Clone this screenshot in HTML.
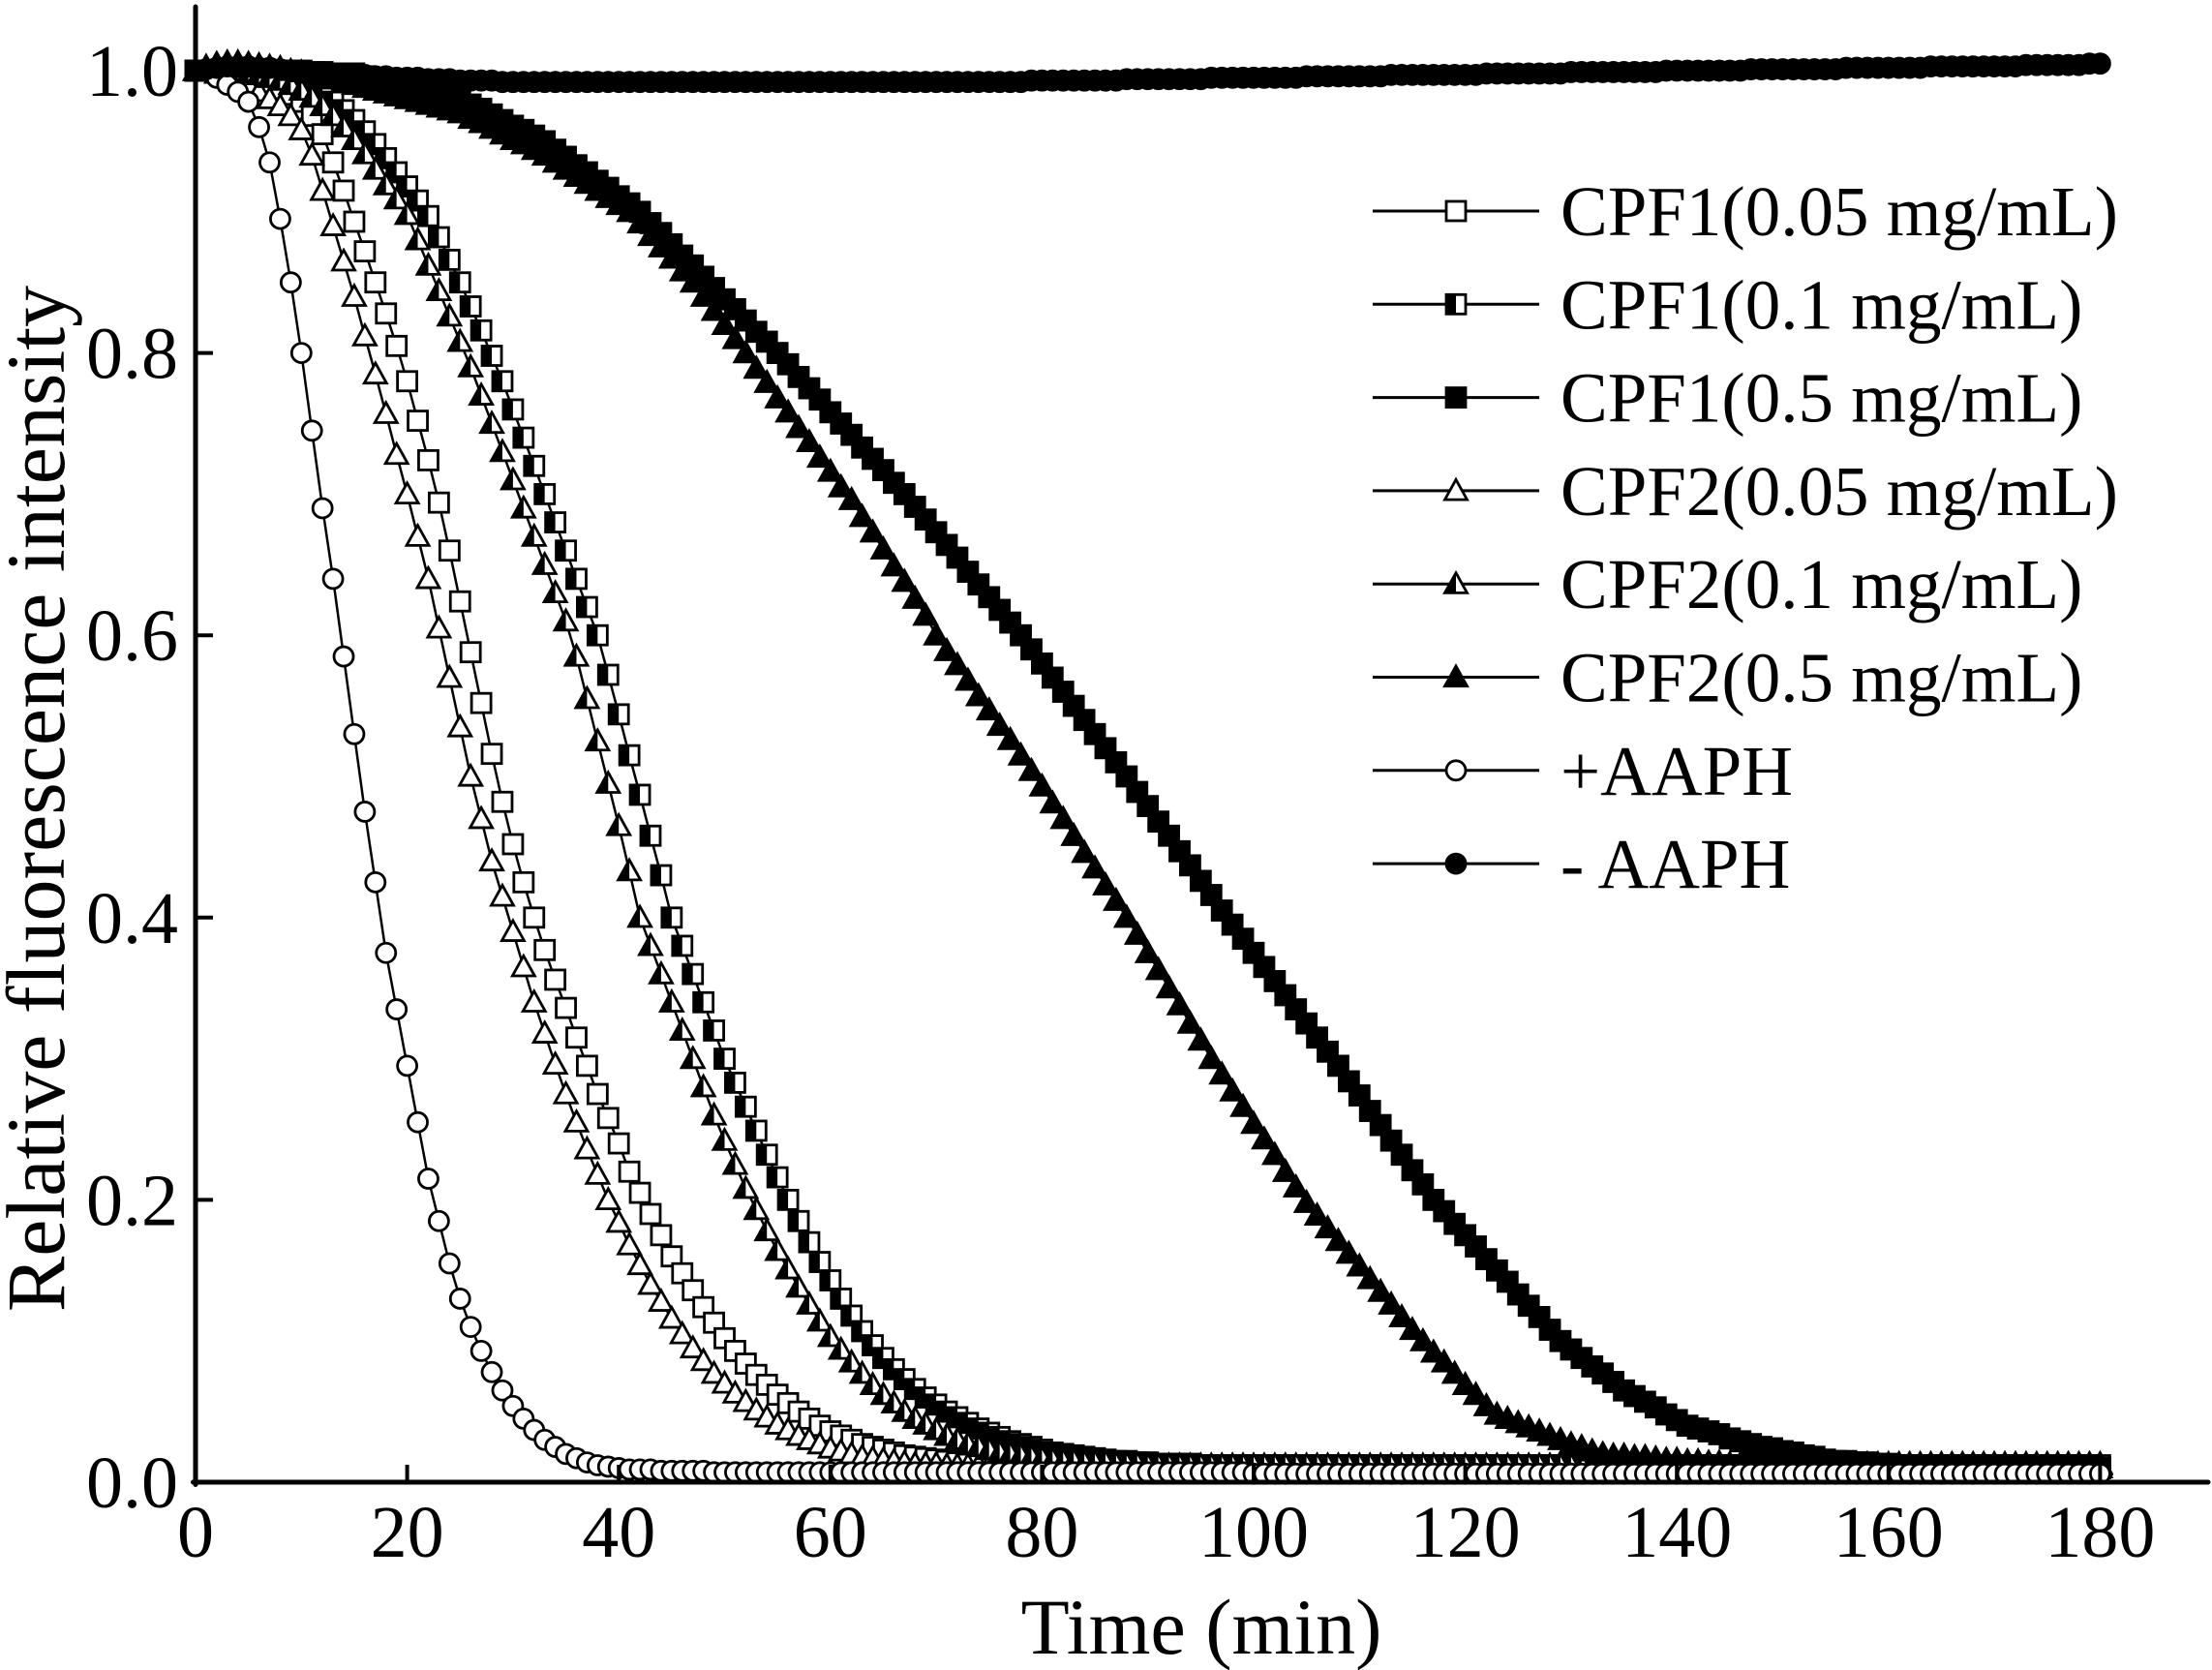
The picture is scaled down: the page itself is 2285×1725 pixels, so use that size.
<!DOCTYPE html>
<html><head><meta charset="utf-8"><style>
html,body{margin:0;padding:0;background:#fff;}
svg{display:block;font-family:"Liberation Serif","Times New Roman",serif;}
</style></head><body>
<svg id="chart" width="2285" height="1725" viewBox="0 0 2285 1725" xmlns="http://www.w3.org/2000/svg">
<g id="series"></g>
<g id="axes"></g>
<g id="legend"></g>
</svg>
<script>
const timeStep = 1;
const xTicks = [0,20,40,60,80,100,120,140,160,180];
const yTicks = [0.0,0.2,0.4,0.6,0.8,1.0];
const yTickLabels = ["0.0","0.2","0.4","0.6","0.8","1.0"];
const seriesNames = ["CPF1(0.05 mg/mL)","CPF1(0.1 mg/mL)","CPF1(0.5 mg/mL)","CPF2(0.05 mg/mL)","CPF2(0.1 mg/mL)","CPF2(0.5 mg/mL)","+AAPH","- AAPH"];

const cpf1Low = [
1.000,1.000,1.000,0.998,0.996,0.994,0.992,0.990,0.987,0.983,
0.978,0.968,0.955,0.935,0.915,0.893,0.872,0.850,0.828,0.805,
0.780,0.752,0.724,0.694,0.660,0.624,0.588,0.552,0.516,0.482,
0.452,0.425,0.400,0.377,0.356,0.336,0.315,0.295,0.275,0.258,
0.240,0.220,0.205,0.190,0.175,0.160,0.148,0.136,0.124,0.113,
0.102,0.093,0.084,0.076,0.069,0.062,0.056,0.050,0.045,0.040,
0.036,0.033,0.030,0.027,0.025,0.023,0.021,0.019,0.018,0.017,
0.016,0.015,0.014,0.013,0.013,0.012,0.012,0.012,0.011,0.011,
.011,.011,.011,.011,.011,.011,.011,.011,.011,.011,
.010,.010,.010,.010,.010,.010,.010,.010,.010,.010,
.010,.010,.010,.010,.010,.010,.010,.010,.010,.010,
.010,.010,.010,.010,.010,.010,.010,.010,.010,.010,
.010,.010,.010,.010,.010,.010,.010,.010,.010,.010,
.010,.010,.010,.010,.010,.010,.010,.010,.010,.010,
.010,.010,.010,.010,.010,.010,.010,.010,.010,.010,
.010,.010,.010,.010,.010,.010,.010,.010,.010,.010,
.010,.010,.010,.010,.010,.010,.010,.010,.010,.010,
.010,.010,.010,.010,.010,.010,.010,.010,.010,.010,
.010];
const cpf1Mid = [
1.000,1.000,1.000,1.000,1.000,0.999,0.998,0.997,0.995,0.993,
0.990,0.987,0.983,0.978,0.972,0.965,0.957,0.948,0.938,0.928,
0.918,0.908,0.897,0.882,0.866,0.850,0.833,0.816,0.798,0.780,
0.760,0.740,0.720,0.700,0.680,0.660,0.640,0.620,0.600,0.572,
0.544,0.515,0.487,0.458,0.430,0.400,0.380,0.360,0.340,0.320,
0.300,0.283,0.266,0.249,0.232,0.216,0.200,0.185,0.170,0.156,
0.143,0.130,0.118,0.107,0.097,0.088,0.080,0.073,0.066,0.060,
0.055,0.050,0.046,0.042,0.038,0.035,0.032,0.029,0.027,0.025,
0.023,0.021,0.020,0.019,0.018,0.017,0.016,0.015,0.015,0.014,
0.014,0.013,0.013,0.013,0.013,0.012,0.012,0.012,0.012,0.012,
.012,.012,.012,.012,.012,.012,.012,.012,.012,.012,
.012,.012,.012,.012,.012,.012,.012,.012,.012,.012,
.012,.012,.012,.012,.012,.012,.012,.012,.012,.012,
.012,.012,.012,.012,.012,.012,.012,.012,.012,.012,
.012,.012,.012,.012,.012,.012,.012,.012,.012,.012,
.012,.012,.012,.012,.012,.012,.012,.012,.012,.012,
.012,.012,.012,.012,.012,.012,.012,.012,.012,.012,
.012,.012,.012,.012,.012,.012,.012,.012,.012,.012,
.012];
const cpf1High = [
1.000,1.000,1.000,1.000,1.000,1.000,1.000,1.000,1.000,1.000,
1.000,0.999,0.999,0.998,0.998,0.998,0.996,0.994,0.993,0.991,
0.989,0.987,0.985,0.984,0.982,0.980,0.976,0.973,0.969,0.965,
0.961,0.958,0.954,0.950,0.944,0.939,0.933,0.928,0.922,0.917,
0.911,0.906,0.900,0.892,0.885,0.877,0.869,0.862,0.854,0.846,
0.838,0.831,0.823,0.815,0.808,0.800,0.792,0.783,0.775,0.767,
0.758,0.750,0.742,0.733,0.725,0.717,0.708,0.700,0.691,0.682,
0.673,0.664,0.655,0.645,0.636,0.627,0.618,0.609,0.600,0.590,
0.580,0.570,0.560,0.550,0.540,0.530,0.520,0.510,0.500,0.489,
0.479,0.468,0.458,0.447,0.437,0.426,0.416,0.405,0.395,0.385,
0.375,0.365,0.355,0.345,0.335,0.325,0.315,0.305,0.295,0.284,
0.274,0.263,0.253,0.242,0.232,0.221,0.211,0.200,0.192,0.183,
0.175,0.167,0.158,0.150,0.142,0.133,0.125,0.117,0.108,0.100,
0.094,0.088,0.082,0.077,0.071,0.065,0.061,0.057,0.053,0.048,
0.044,0.040,0.038,0.036,0.034,0.031,0.029,0.027,0.025,0.024,
0.022,0.021,0.019,0.018,0.016,0.015,0.015,0.014,0.014,0.013,
0.013,0.012,0.012,0.011,0.011,0.010,0.010,0.010,0.010,0.010,
.010,.010,.010,.010,.010,.010,.010,.010,.010,.010,
.010];
const cpf2Low = [
1.000,1.000,0.998,0.996,0.994,0.990,0.985,0.980,0.975,0.968,
0.958,0.940,0.915,0.890,0.865,0.840,0.812,0.785,0.757,0.728,
0.700,0.670,0.640,0.605,0.570,0.535,0.500,0.470,0.440,0.415,
0.390,0.365,0.340,0.318,0.296,0.275,0.255,0.236,0.218,0.200,
0.184,0.168,0.154,0.140,0.128,0.116,0.105,0.095,0.086,0.077,
0.070,0.063,0.057,0.051,0.046,0.041,0.037,0.033,0.030,0.027,
0.024,0.022,0.020,0.018,0.017,0.016,0.015,0.014,0.013,0.013,
0.013,0.012,0.012,0.012,0.012,0.012,0.012,0.012,0.012,0.012,
.011,.011,.011,.011,.011,.011,.011,.011,.011,.011,
.010,.010,.010,.010,.010,.010,.010,.010,.010,.010,
.010,.010,.010,.010,.010,.010,.010,.010,.010,.010,
.010,.010,.010,.010,.010,.010,.010,.010,.010,.010,
.010,.010,.010,.010,.010,.010,.010,.010,.010,.010,
.010,.010,.010,.010,.010,.010,.010,.010,.010,.010,
.010,.010,.010,.010,.010,.010,.010,.010,.010,.010,
.010,.010,.010,.010,.010,.010,.010,.010,.010,.010,
.010,.010,.010,.010,.010,.010,.010,.010,.010,.010,
.010,.010,.010,.010,.010,.010,.010,.010,.010,.010,
.010];
const cpf2Mid = [
1.000,1.000,1.000,1.000,0.999,0.998,0.997,0.995,0.993,0.990,
0.986,0.981,0.975,0.968,0.960,0.951,0.941,0.930,0.919,0.909,
0.898,0.880,0.862,0.844,0.826,0.808,0.790,0.770,0.750,0.730,
0.710,0.690,0.670,0.650,0.630,0.610,0.585,0.555,0.525,0.495,
0.465,0.433,0.400,0.380,0.360,0.340,0.320,0.300,0.280,0.260,
0.242,0.225,0.208,0.193,0.178,0.164,0.151,0.138,0.126,0.114,
0.103,0.094,0.085,0.077,0.069,0.062,0.056,0.050,0.045,0.041,
0.037,0.033,0.030,0.027,0.025,0.023,0.021,0.020,0.019,0.018,
0.017,0.016,0.015,0.015,0.014,0.014,0.014,0.013,0.013,0.013,
.012,.012,.012,.012,.012,.012,.012,.012,.012,.012,
.012,.012,.012,.012,.012,.012,.012,.012,.012,.012,
.012,.012,.012,.012,.012,.012,.012,.012,.012,.012,
.012,.012,.012,.012,.012,.012,.012,.012,.012,.012,
.012,.012,.012,.012,.012,.012,.012,.012,.012,.012,
.012,.012,.012,.012,.012,.012,.012,.012,.012,.012,
.012,.012,.012,.012,.012,.012,.012,.012,.012,.012,
.012,.012,.012,.012,.012,.012,.012,.012,.012,.012,
.012,.012,.012,.012,.012,.012,.012,.012,.012,.012,
.012];
const cpf2High = [
1.000,1.003,1.005,1.006,1.006,1.005,1.004,1.003,1.002,1.000,
0.999,0.998,0.996,0.994,0.992,0.990,0.988,0.986,0.984,0.982,
0.980,0.978,0.976,0.974,0.972,0.970,0.966,0.963,0.959,0.955,
0.951,0.948,0.944,0.940,0.935,0.930,0.925,0.920,0.915,0.910,
0.905,0.900,0.892,0.883,0.875,0.867,0.858,0.850,0.840,0.830,
0.820,0.810,0.800,0.789,0.779,0.768,0.758,0.747,0.737,0.726,
0.716,0.705,0.696,0.684,0.673,0.661,0.649,0.638,0.626,0.614,
0.600,0.589,0.579,0.568,0.557,0.547,0.536,0.526,0.515,0.504,
0.493,0.481,0.470,0.458,0.446,0.435,0.423,0.412,0.400,0.388,
0.375,0.363,0.350,0.338,0.325,0.313,0.300,0.289,0.277,0.266,
0.254,0.243,0.232,0.220,0.209,0.198,0.189,0.180,0.171,0.162,
0.153,0.144,0.135,0.126,0.117,0.108,0.100,0.092,0.085,0.077,
0.069,0.062,0.054,0.048,0.045,0.042,0.039,0.036,0.033,0.030,
0.027,0.025,0.022,0.020,0.019,0.019,0.018,0.018,0.017,0.016,
0.016,0.015,0.015,0.014,0.014,0.013,0.013,0.013,0.013,0.013,
.013,.013,.013,.013,.013,.013,.013,.013,.013,.013,
.013,.013,.013,.013,.013,.013,.013,.013,.013,.013,
.013,.013,.013,.013,.013,.013,.013,.013,.013,.013,
.013];
const plusAAPH = [
1.000,1.000,0.995,0.990,0.985,0.978,0.960,0.935,0.895,0.850,
0.800,0.745,0.690,0.640,0.585,0.530,0.475,0.425,0.375,0.335,
0.295,0.255,0.215,0.185,0.155,0.130,0.110,0.093,0.078,0.065,
0.054,0.045,0.037,0.030,0.025,0.020,0.017,0.014,0.012,0.011,
0.010,0.009,0.009,0.009,0.008,0.008,0.008,0.008,0.008,0.007,
.007,.007,.007,.007,.007,.007,.007,.007,.007,.007,
.007,.007,.007,.007,.007,.007,.007,.007,.007,.007,
.007,.007,.007,.007,.007,.007,.007,.007,.007,.007,
.007,.007,.007,.007,.007,.007,.007,.007,.007,.007,
.007,.007,.007,.007,.007,.007,.007,.007,.007,.007,
.006,.006,.006,.006,.006,.006,.006,.006,.006,.006,
.006,.006,.006,.006,.006,.006,.006,.006,.006,.006,
.006,.006,.006,.006,.006,.006,.006,.006,.006,.006,
.006,.006,.006,.006,.006,.006,.006,.006,.006,.006,
.006,.006,.006,.006,.006,.006,.006,.006,.006,.006,
.006,.006,.006,.006,.006,.006,.006,.006,.006,.006,
.006,.006,.006,.006,.006,.006,.006,.006,.006,.006,
.006,.006,.006,.006,.006,.006,.006,.006,.006,.006,
.006];
const minusAAPH = [
1.000,1.001,1.002,1.003,1.003,1.003,1.002,1.002,1.001,1.000,
1.000,0.999,0.999,0.998,0.998,0.997,0.997,0.996,0.996,0.995,
0.995,0.995,0.994,0.994,0.994,0.993,0.993,0.993,0.993,0.992,
.992,.992,.992,.992,.992,.992,.992,.992,.992,.992,
.992,.992,.992,.992,.992,.992,.992,.992,.992,.992,
.992,.992,.992,.992,.992,.992,.992,.992,.992,.992,
.992,.992,.992,.992,.992,.992,.992,.992,.992,.992,
.992,.992,.992,.992,.992,.992,.992,.992,.992,.993,
.993,.993,.993,.993,.993,.993,.993,.993,.994,.994,
.994,.994,.994,.994,.994,.994,.995,.995,.995,.995,
.995,.995,.995,.995,.995,.996,.996,.996,.996,.996,
.996,.996,.996,.997,.997,.997,.997,.997,.997,.997,
.997,.997,.998,.998,.998,.998,.998,.998,.998,.998,
.999,.999,.999,.999,.999,.999,.999,.999,.999,1.000,
1.000,1.000,1.000,1.000,1.000,1.000,1.000,1.001,1.001,1.001,
1.001,1.001,1.001,1.001,1.001,1.001,1.002,1.002,1.002,1.002,
1.002,1.002,1.002,1.002,1.003,1.003,1.003,1.003,1.003,1.003,
1.003,1.003,1.003,1.004,1.004,1.004,1.004,1.004,1.004,1.005,
1.005];

const NS = "http://www.w3.org/2000/svg";
const X0 = 202, XPER = 10.93, Y0 = 1531, YSPAN = 1458;
function xScale(t){ return X0 + t * XPER; }
function yScale(v){ return Y0 - v * YSPAN; }
function mk(tag, attrs, parent){
  const e = document.createElementNS(NS, tag);
  for (const k in attrs) e.setAttribute(k, attrs[k]);
  parent.appendChild(e);
  return e;
}
const seriesG = document.getElementById('series');
const axesG = document.getElementById('axes');
const legendG = document.getElementById('legend');

const MS = 10;
function drawMarker(parent, type, cx, cy){
  const g = mk('g', {}, parent);
  const sw = 2.8;
  if (type === 'sq-open' || type === 'sq-half' || type === 'sq-full'){
    mk('rect', {x:cx-MS, y:cy-MS, width:2*MS, height:2*MS, fill: type==='sq-full'?'#000':'#fff', stroke:'#000','stroke-width':sw}, g);
    if (type === 'sq-half') mk('rect', {x:cx-MS, y:cy-MS, width:MS, height:2*MS, fill:'#000'}, g);
  } else if (type === 'tri-open' || type === 'tri-half' || type === 'tri-full'){
    const h = MS*1.15;
    const p = `${cx},${cy-h} ${cx+MS*1.15},${cy+h*0.8} ${cx-MS*1.15},${cy+h*0.8}`;
    mk('polygon', {points:p, fill: type==='tri-full'?'#000':'#fff', stroke:'#000','stroke-width':sw,'stroke-linejoin':'miter'}, g);
    if (type === 'tri-half') mk('polygon', {points:`${cx},${cy-h} ${cx},${cy+h*0.8} ${cx-MS*1.15},${cy+h*0.8}`, fill:'#000'}, g);
  } else {
    mk('ellipse', {cx:cx, cy:cy, rx:MS, ry:MS, fill: type==='circ-full'?'#000':'#fff', stroke:'#000','stroke-width':sw}, g);
  }
  return g;
}

const allSeries = [cpf1Low, cpf1Mid, cpf1High, cpf2Low, cpf2Mid, cpf2High, plusAAPH, minusAAPH];
const markerTypes = ['sq-open','sq-half','sq-full','tri-open','tri-half','tri-full','circ-open','circ-full'];
const seriesKeys = ['cpf1-0.05','cpf1-0.1','cpf1-0.5','cpf2-0.05','cpf2-0.1','cpf2-0.5','plus-aaph','minus-aaph'];

allSeries.forEach((vals, si) => {
  const g = mk('g', {}, seriesG);
  
  
  const pts = vals.map((v, i) => xScale(i*timeStep).toFixed(1) + ',' + yScale(v).toFixed(1)).join(' ');
  const line = mk('polyline', {points:pts, fill:'none', stroke:'#000','stroke-width':2.5}, g);
  
  
  vals.forEach((v, i) => {
    const m = drawMarker(g, markerTypes[si], xScale(i*timeStep), yScale(v));
    
    
  });
});

const yAxis = mk('line', {x1:X0, y1:7, x2:X0, y2:Y0+2.5, stroke:'#000','stroke-width':5,'stroke-linecap':'round'}, axesG);


const xAxis = mk('line', {x1:X0-2.5, y1:Y0, x2:2281, y2:Y0, stroke:'#000','stroke-width':5,'stroke-linecap':'round'}, axesG);



xTicks.forEach(t => {
  const x = xScale(t);
  const tk = mk('line', {x1:x, y1:Y0, x2:x, y2:Y0-18, stroke:'#000','stroke-width':4}, axesG);
  
  
  const tx = mk('text', {x:x, y:1608, 'font-size':76, 'text-anchor':'middle', fill:'#000'}, axesG);
  tx.textContent = String(t);
  
  
});
yTicks.forEach((v, i) => {
  const y = yScale(v);
  const tk = mk('line', {x1:X0, y1:y, x2:X0+18, y2:y, stroke:'#000','stroke-width':4}, axesG);
  
  
  const tx = mk('text', {x:184, y:y+26, 'font-size':76, 'text-anchor':'end', fill:'#000'}, axesG);
  tx.textContent = yTickLabels[i];
  
  
});
const xt = mk('text', {x:1241, y:1708, 'font-size':82, 'text-anchor':'middle', fill:'#000'}, axesG);
xt.textContent = 'Time (min)';


const yt = mk('text', {x:0, y:0, 'font-size':86, 'text-anchor':'middle', fill:'#000', transform:'translate(66,825) rotate(-90)'}, axesG);
yt.textContent = 'Relative fluorescence intensity';



seriesNames.forEach((name, i) => {
  const y = 218 + i * 96.3;
  const g = mk('g', {}, legendG);
  
  
  mk('line', {x1:1418, y1:y, x2:1590, y2:y, stroke:'#000','stroke-width':3}, g);
  drawMarker(g, markerTypes[i], 1504, y);
  const tx = mk('text', {x:1612, y:y+25, 'font-size':73, fill:'#000'}, g);
  tx.textContent = name;
});
</script>
</body></html>
